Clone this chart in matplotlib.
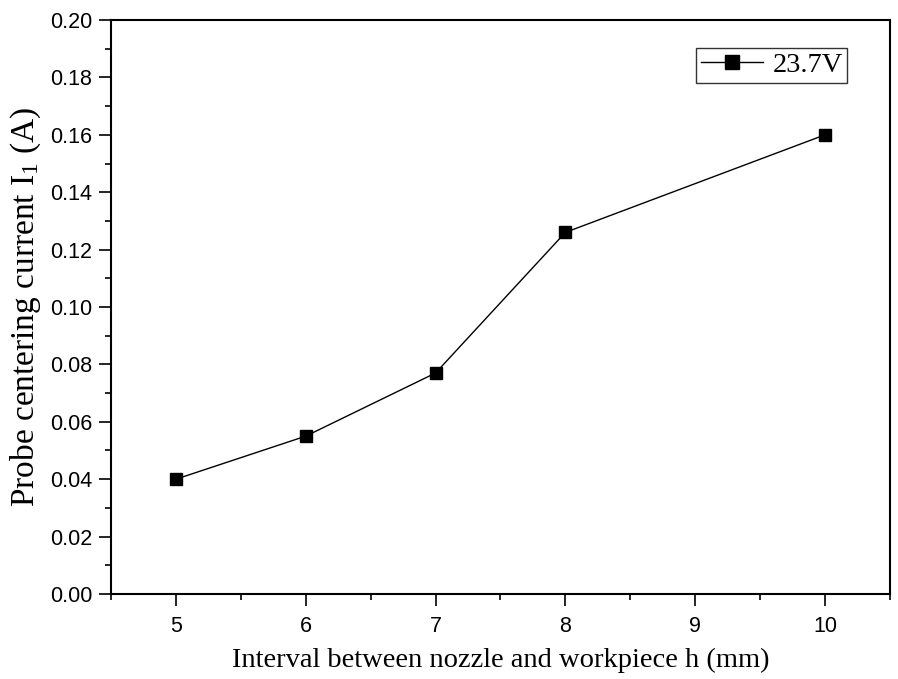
import numpy as np
import matplotlib
matplotlib.use('Agg')
import matplotlib.pyplot as plt
from matplotlib.ticker import MultipleLocator, FormatStrFormatter

# values
gap = [5, 6, 7, 8, 10]
current = [0.040, 0.055, 0.077, 0.126, 0.160]
series_label = '23.7V'
xticks = [5, 6, 7, 8, 9, 10]

plt.rcParams['mathtext.fontset'] = 'custom'
plt.rcParams['mathtext.rm'] = 'Liberation Serif'
plt.rcParams['mathtext.it'] = 'Liberation Serif'

fig = plt.figure(figsize=(8.98, 6.79), dpi=100)
ax = fig.add_axes([0.1236, 0.1252, 0.991 - 0.1236, 0.9705 - 0.1252])

ax.plot(gap, current, color='black', lw=1, marker='s', markersize=9,
        label=series_label)

ax.set_xlim(4.5, 10.5)
ax.set_ylim(0, 0.20)
ax.set_xticks(xticks)
ax.xaxis.set_minor_locator(MultipleLocator(0.5))
ax.yaxis.set_major_locator(MultipleLocator(0.02))
ax.yaxis.set_minor_locator(MultipleLocator(0.01))
ax.yaxis.set_major_formatter(FormatStrFormatter('%.2f'))

for lab in ax.get_xticklabels() + ax.get_yticklabels():
    lab.set_fontfamily('Liberation Sans')
    lab.set_fontsize(15.5)

ax.tick_params(which='major', direction='out', length=8.5, width=1.2)
ax.tick_params(axis='x', which='major', pad=7)
ax.tick_params(axis='y', which='major', pad=5)
ax.tick_params(which='minor', direction='out', length=4.5, width=1.2)
for s in ax.spines.values():
    s.set_linewidth(1.5)

ax.set_xlabel('Interval between nozzle and workpiece h (mm)',
              fontfamily='Liberation Serif', fontsize=20.5, labelpad=8)
ax.set_ylabel('Probe centering current I$_1$ (A)',
              fontfamily='Liberation Serif', fontsize=24, labelpad=5)

leg = ax.legend(loc='upper right', bbox_to_anchor=(0.945, 0.951),
                prop={'family': 'Liberation Serif', 'size': 20.5},
                frameon=True, fancybox=False, numpoints=1, markerscale=1.05,
                handlelength=2.2, handletextpad=0.32, borderpad=0.15,
                borderaxespad=0)
leg.get_frame().set_edgecolor('black')
leg.get_frame().set_linewidth(1)

fig.savefig('out.png', dpi=100)
